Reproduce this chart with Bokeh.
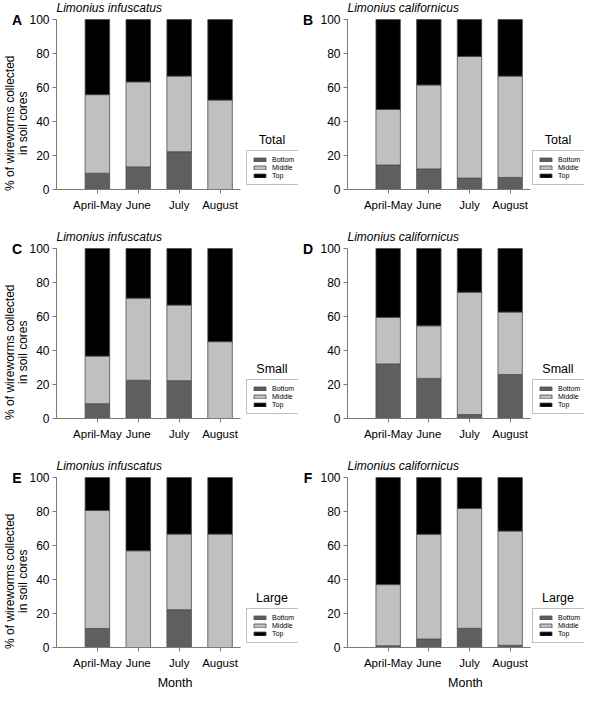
from math import pi
from bokeh.plotting import figure
from bokeh.models import ColumnDataSource, Range1d, FixedTicker, Label, Legend, LegendItem
from bokeh.layouts import column, row
from bokeh.embed import file_html
from bokeh.resources import INLINE

FONT = "Liberation Sans"

months = ["April-May", "June", "July", "August"]
layers = ["Bottom", "Middle", "Top"]
layer_colors = ["#5f5f5f", "#c0c0c0", "#000000"]
y_ticks = [0, 20, 40, 60, 80, 100]

# A: Limonius infuscatus, Total
a_bottom = [9.6, 13.3, 22.2, 0.0]
a_middle = [46.2, 50.0, 44.5, 52.6]
a_top = [44.2, 36.7, 33.3, 47.4]
# B: Limonius californicus, Total
b_bottom = [14.4, 12.1, 6.7, 7.1]
b_middle = [32.7, 49.4, 71.6, 59.6]
b_top = [52.9, 38.5, 21.7, 33.3]
# C: Limonius infuscatus, Small
c_bottom = [8.7, 22.5, 22.2, 0.0]
c_middle = [28.0, 48.3, 44.5, 45.2]
c_top = [63.3, 29.2, 33.3, 54.8]
# D: Limonius californicus, Small
d_bottom = [32.1, 23.6, 2.3, 25.9]
d_middle = [27.4, 30.9, 72.0, 36.7]
d_top = [40.5, 45.5, 25.7, 37.4]
# E: Limonius infuscatus, Large
e_bottom = [11.2, 0.0, 22.2, 0.0]
e_middle = [69.4, 56.9, 44.5, 66.7]
e_top = [19.4, 43.1, 33.3, 33.3]
# F: Limonius californicus, Large
f_bottom = [1.0, 5.0, 11.3, 1.3]
f_middle = [36.0, 61.6, 70.5, 67.2]
f_top = [63.0, 33.4, 18.2, 31.5]

panels = [
    ("A", "Limonius infuscatus", "Total", a_bottom, a_middle, a_top),
    ("B", "Limonius californicus", "Total", b_bottom, b_middle, b_top),
    ("C", "Limonius infuscatus", "Small", c_bottom, c_middle, c_top),
    ("D", "Limonius californicus", "Small", d_bottom, d_middle, d_top),
    ("E", "Limonius infuscatus", "Large", e_bottom, e_middle, e_top),
    ("F", "Limonius californicus", "Large", f_bottom, f_middle, f_top),
]

# layout (pixels)
FIG_W = [298, 286]       # left / right column figure widths
AXIS_X = [56, 49]        # pixel column of the y axis
PLOT_W = [184, 183]      # pixels for x in 0..4.5
LEG_X = [246, 234]       # legend left edge (pixels)
LEG_W = 51
row_heights = [229, 229, 231]
PLOT_TOP = 19            # pixel row of y=100 inside each figure
PLOT_H = 170             # pixels for 0..100
XMAX = 4.5
AXIS_GRAY = "#7a7a7a"


def make_panel(idx, letter, species, size_class, bottom, middle, top):
    c = idx % 2
    left_col = c == 0
    r = idx // 2
    h = row_heights[r]
    w = FIG_W[c]
    ax = AXIS_X[c]
    px_x = PLOT_W[c] / XMAX
    px_y = PLOT_H / 100.0
    x_range = Range1d(-ax / px_x, (w - ax) / px_x)
    y_range = Range1d(-(h - PLOT_TOP - PLOT_H) / px_y, 100 + PLOT_TOP / px_y)

    def dx(px):  # pixel column -> data x
        return (px - ax) / px_x

    p = figure(width=w, height=h, x_range=x_range, y_range=y_range,
               output_backend="svg", toolbar_location=None, tools="")
    p.min_border = 0
    p.min_border_left = 0
    p.min_border_right = 0
    p.min_border_top = 0
    p.min_border_bottom = 0
    p.outline_line_color = None
    p.grid.visible = False
    p.background_fill_color = "white"
    p.border_fill_color = "white"

    src = ColumnDataSource(dict(x=[1, 2, 3, 4], Bottom=bottom, Middle=middle, Top=top))
    rs = p.vbar_stack(layers, x="x", width=0.6, fill_color=layer_colors,
                      line_color="#4d4d4d", line_width=0.8, source=src)

    xa = p.xaxis[0]
    xa.fixed_location = 0
    xa.bounds = (0, XMAX)
    xa.ticker = FixedTicker(ticks=[1, 2, 3, 4])
    xa.major_label_overrides = {i + 1: m for i, m in enumerate(months)}
    xa.major_tick_out = 4
    xa.major_tick_in = 0
    xa.minor_tick_out = 0
    xa.minor_tick_in = 0
    xa.major_label_standoff = 5
    xa.axis_line_color = AXIS_GRAY
    xa.major_tick_line_color = AXIS_GRAY
    xa.major_label_text_font = FONT
    xa.major_label_text_font_size = "11.5px"
    xa.major_label_text_color = "#000000"

    ya = p.yaxis[0]
    ya.fixed_location = 0
    ya.bounds = (0, 100)
    ya.ticker = FixedTicker(ticks=y_ticks)
    ya.major_tick_out = 4
    ya.major_tick_in = 0
    ya.minor_tick_out = 0
    ya.minor_tick_in = 0
    ya.major_label_standoff = 3
    ya.axis_line_color = AXIS_GRAY
    ya.major_tick_line_color = AXIS_GRAY
    ya.major_label_text_font = FONT
    ya.major_label_text_font_size = "12px"
    ya.major_label_text_color = "#000000"

    items = [LegendItem(label=l, renderers=[rr]) for l, rr in zip(layers, rs)]
    leg_y = (h - PLOT_TOP - PLOT_H) + 4
    leg = Legend(items=items, location=(LEG_X[c], leg_y), orientation="vertical",
                 label_text_font=FONT, label_text_font_size="7px", label_text_color="#000000",
                 glyph_width=15, glyph_height=5, label_height=7, label_width=20,
                 label_standoff=5, padding=5, spacing=1, margin=0,
                 border_line_color="#808080", border_line_width=1,
                 background_fill_color="white", background_fill_alpha=1.0)
    p.add_layout(leg)

    p.add_layout(Label(x=dx(LEG_X[c] + LEG_W / 2), y=29, text=size_class, text_align="center",
                       text_baseline="middle", text_font=FONT, text_font_size="12.5px",
                       text_color="#000000"))
    p.add_layout(Label(x=0, y=107, text=species, text_align="left",
                       text_baseline="middle", text_font=FONT, text_font_size="12px",
                       text_font_style="italic", text_color="#000000"))
    p.add_layout(Label(x=dx(ax - 39.5), y=100, text=letter, text_align="center",
                       text_baseline="middle", text_font=FONT, text_font_size="14px",
                       text_font_style="bold", text_color="#000000"))
    if left_col:
        p.add_layout(Label(x=dx(ax - 46.5), y=39, text="% of wireworms collected", angle=pi / 2,
                           text_align="center", text_baseline="middle", text_font=FONT,
                           text_font_size="12px", text_color="#000000"))
        p.add_layout(Label(x=dx(ax - 33.5), y=39, text="in soil cores", angle=pi / 2,
                           text_align="center", text_baseline="middle", text_font=FONT,
                           text_font_size="12px", text_color="#000000"))
    if r == 2:
        p.add_layout(Label(x=2.9, y=-21, text="Month", text_align="center",
                           text_baseline="middle", text_font=FONT, text_font_size="12.5px",
                           text_color="#000000"))
    return p


figs = [make_panel(i, *pan) for i, pan in enumerate(panels)]
layout = column(row(figs[0], figs[1]), row(figs[2], figs[3]), row(figs[4], figs[5]))

open("out.html", "w").write(file_html(layout, INLINE))
